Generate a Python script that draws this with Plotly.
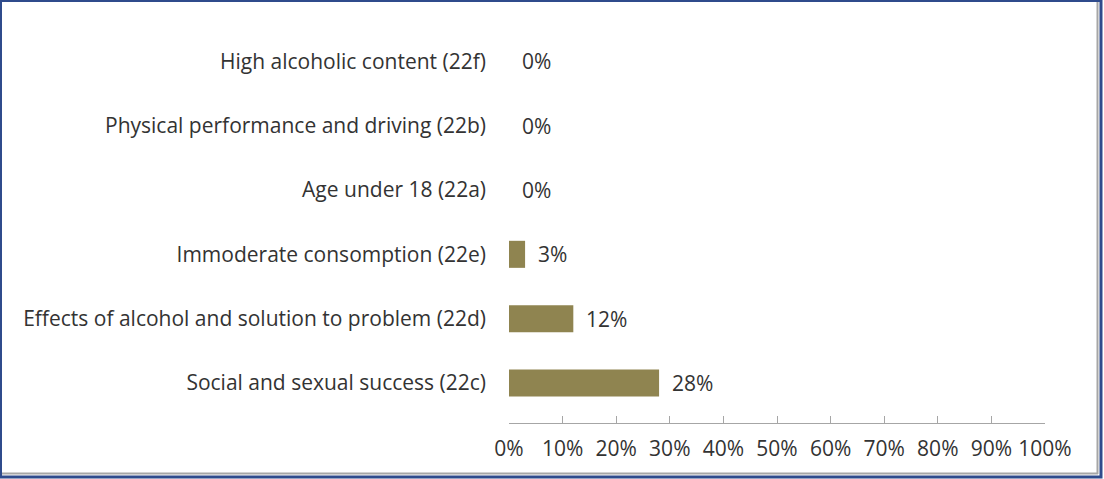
import plotly.graph_objects as go

# Categories listed bottom-to-top, with their shares
categories = [
    "Social and sexual success (22c)",
    "Effects of alcohol and solution to problem (22d)",
    "Immoderate consomption (22e)",
    "Age under 18 (22a)",
    "Physical performance and driving (22b)",
    "High alcoholic content (22f)",
]
shares = [28, 12, 3, 0, 0, 0]
x_ticks = [0, 10, 20, 30, 40, 50, 60, 70, 80, 90, 100]
x_tick_labels = [f"{t}%" for t in x_ticks]

W, H = 1104, 479
L, R, T, B = 509, 59, 29, 56

FONT = "Open Sans, Liberation Sans, sans-serif"
FS = 21
TXT = "#333333"
BAR = "#8f8450"

fig = go.Figure()
fig.add_trace(go.Bar(
    y=categories,
    x=shares,
    orientation="h",
    width=0.42,
    marker=dict(color=BAR, line=dict(width=0)),
    hoverinfo="skip",
))

# value labels to the right of each bar
for cat, v in zip(categories, shares):
    fig.add_annotation(
        x=v, y=cat, xref="x", yref="y",
        text=f"{v}%", showarrow=False,
        xanchor="left", xshift=11,
        font=dict(family=FONT, size=FS, color=TXT),
    )

# frame around the whole figure, with a grey inner shadow on right/bottom
pw = W - L - R
ph = H - T - B
def px(xp):
    return (xp - L) / pw
def py(yp):
    return (H - B - yp) / ph

fig.add_shape(type="line", xref="paper", yref="paper",
              x0=px(1097.5), x1=px(1097.5), y0=py(2), y1=py(474),
              line=dict(color="#a6a6a6", width=2))
fig.add_shape(type="line", xref="paper", yref="paper",
              x0=px(2), x1=px(1098), y0=py(473.5), y1=py(473.5),
              line=dict(color="#a6a6a6", width=2))
fig.add_shape(type="rect", xref="paper", yref="paper",
              x0=px(0.5), x1=px(1101), y0=py(0.5), y1=py(477),
              line=dict(color="#2f4b8c", width=3))

fig.update_layout(
    width=W, height=H,
    margin=dict(l=L, r=R, t=T, b=B),
    paper_bgcolor="white", plot_bgcolor="white",
    showlegend=False,
    font=dict(family=FONT, size=FS, color=TXT),
    xaxis=dict(
        range=[0, 100],
        tickvals=x_ticks, ticktext=x_tick_labels,
        showgrid=False, zeroline=False,
        showline=True, linecolor="#a6a6a6", linewidth=1,
        ticks="inside", ticklen=7, tickcolor="#a6a6a6",
        ticklabelstandoff=7,
        tickfont=dict(family=FONT, size=FS, color=TXT),
        fixedrange=True,
    ),
    yaxis=dict(
        type="category",
        categoryorder="array", categoryarray=categories,
        range=[-0.62, 5.5],
        showgrid=False, zeroline=False, showline=False,
        ticks="", ticklabelstandoff=22,
        tickfont=dict(family=FONT, size=FS, color=TXT),
        fixedrange=True,
    ),
)

fig.write_html("out.html")
